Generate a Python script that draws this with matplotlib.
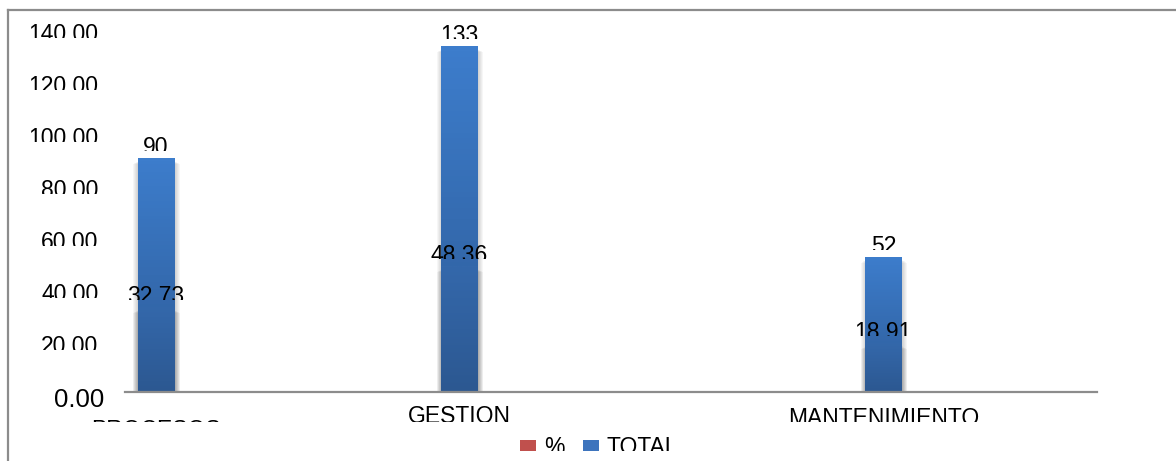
import numpy as np
import matplotlib
matplotlib.use('Agg')
import matplotlib.pyplot as plt
import matplotlib.transforms as mtransforms
from matplotlib.colors import LinearSegmentedColormap
from matplotlib.lines import Line2D
from matplotlib.patches import Patch

plt.rcParams['font.family'] = ['Liberation Sans', 'DejaVu Sans']

# datos
categorias = ['PROCESOS', 'GESTION', 'MANTENIMIENTO']
total = [90, 133, 52]
porcentaje = [32.73, 48.36, 18.91]
y_ticks = [0, 20, 40, 60, 80, 100, 120, 140]
series = ['%', 'TOTAL']

W, H, DPI = 1176, 461, 100
FS = 16.5

fig = plt.figure(figsize=(W / DPI, H / DPI), dpi=DPI)
ax = fig.add_axes([125 / W, 69 / H, 972 / W, 364 / H])

# posiciones de las categorias en el eje (no equidistantes)
slots = [0.0, 1.0, 2.4]
bar_w = 0.119
px = 1 / 303  # un pixel en unidades del eje x


def gradient_fill(bars, top_color, bottom_color, z):
    cmap = LinearSegmentedColormap.from_list('g', [bottom_color, top_color])
    grad = np.linspace(0, 1, 64).reshape(-1, 1)
    for b in bars:
        x0, y0 = b.get_x(), b.get_y()
        w, h = b.get_width(), b.get_height()
        im = ax.imshow(grad, cmap=cmap, origin='lower', aspect='auto',
                       extent=[x0, x0 + w, y0, y0 + h], zorder=z)
        im.set_clip_path(b)


def halo(values, z):
    # sombra suave alrededor de cada barra
    for k in range(1, 6):
        ax.bar([s + 0.6 * px for s in slots], [v - 1.2 - 0.2 * k for v in values],
               bar_w + 2 * k * px, color='black', alpha=0.035,
               linewidth=0, zorder=z)


# serie TOTAL
halo(total, 1.5)
bars_total = ax.bar(slots, total, bar_w, color='#3a75c0', linewidth=0, zorder=2)
gradient_fill(bars_total, '#3d7dcc', '#2d5b97', 2.01)

textos = []
for x, v in zip(slots, total):
    textos.append(ax.annotate(f'{v:g}', (x, v), xytext=(0, 3),
                              textcoords='offset points', ha='center',
                              va='baseline', fontsize=FS, zorder=2.5))

# serie % (sobre TOTAL)
for x, v in zip(slots, porcentaje):
    textos.append(ax.annotate(f'{v:.2f}', (x, v), xytext=(0, 3),
                              textcoords='offset points', ha='center',
                              va='baseline', fontsize=FS, zorder=3))
halo(porcentaje, 3.5)
bars_pct = ax.bar(slots, porcentaje, bar_w, color='#3060a0', linewidth=0, zorder=4)
gradient_fill(bars_pct, '#3468ab', '#2c5891', 4.01)

ax.set_xlim(-0.102, 3.105)
ax.set_ylim(0, 140)
for side in ['left', 'right', 'top']:
    ax.spines[side].set_visible(False)
ax.spines['bottom'].set_color('#8c8c8c')
ax.spines['bottom'].set_linewidth(1.6)
ax.spines['bottom'].set_zorder(5)

ax.set_xticks([])
ax.set_yticks(y_ticks)
ax.set_yticklabels([f'{t:.2f}' for t in y_ticks])
ax.tick_params(axis='y', length=0, pad=19, labelsize=FS)
down = mtransforms.ScaledTranslation(0, -3 / 72, fig.dpi_scale_trans)
ylabels = ax.get_yticklabels()
for lab in ylabels:
    lab.set_transform(lab.get_transform() + down)
ylabels[0].set_fontsize(18.5)
ylabels[0].set_transform(ylabels[0].get_transform()
                         + mtransforms.ScaledTranslation(4 / 72, -1 / 72, fig.dpi_scale_trans))

# etiquetas de categoria
cat_offsets = [-27, -13, -15]
cat_textos = []
for x, nombre, off in zip(slots, categorias, cat_offsets):
    cat_textos.append(ax.annotate(nombre, (x, 0), xycoords=('data', 'axes fraction'),
                                  xytext=(0, off * 72 / DPI), textcoords='offset points',
                                  ha='center', va='top', fontsize=FS,
                                  annotation_clip=False))

leg = fig.legend(handles=[Patch(facecolor='#c0504d'), Patch(facecolor='#3d74bd')],
                 labels=series, loc='center', bbox_to_anchor=(599 / W, 14 / H),
                 ncol=2, frameon=False, fontsize=FS, handlelength=0.7,
                 handleheight=0.35, handletextpad=0.35, columnspacing=0.8,
                 borderaxespad=0, borderpad=0)

# marco del grafico
marco = dict(transform=fig.transFigure, color='#8c8c8c', lw=1.6)
fig.add_artist(Line2D([8 / W, 8 / W], [0, 1 - 10 / H], **marco))
fig.add_artist(Line2D([8 / W, 1], [1 - 10 / H, 1 - 10 / H], **marco))

# recorte inferior de los textos
fig.canvas.draw()
for t in textos + ylabels[1:] + list(leg.get_texts()):
    bb = t.get_window_extent()
    t.set_clip_box(mtransforms.Bbox.from_extents(bb.x0 - 3, bb.y1 - 15, bb.x1 + 3, bb.y1 + 5))
    t.set_clip_on(True)
for t in cat_textos:
    bb = t.get_window_extent()
    t.set_clip_box(mtransforms.Bbox.from_extents(bb.x0 - 3, H - 422, bb.x1 + 3, bb.y1 + 5))
    t.set_clip_on(True)

fig.savefig('out.png', dpi=DPI)
